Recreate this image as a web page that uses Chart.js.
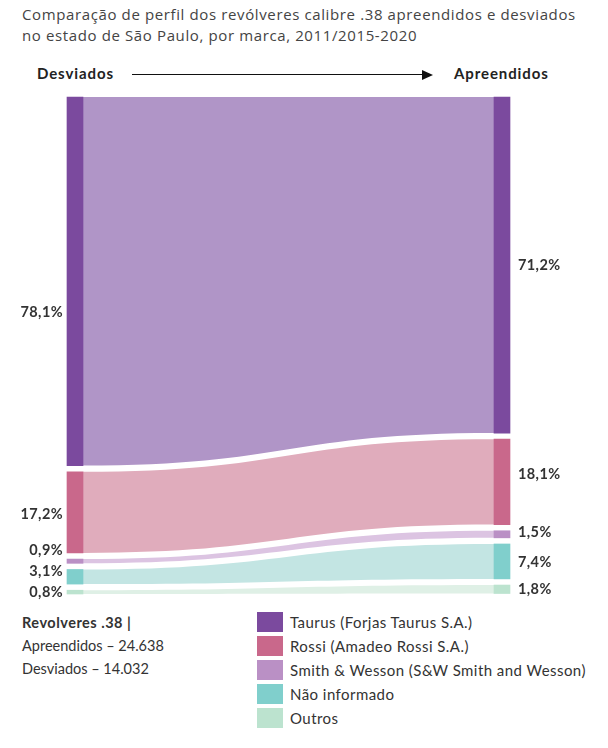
<!DOCTYPE html>
<html lang="pt-BR">
<head>
<meta charset="utf-8">
<title>Revólveres calibre .38 - Sankey</title>
<script src="https://cdn.jsdelivr.net/npm/chart.js@4.4.1/dist/chart.umd.min.js"></script>
<style>
  html, body { margin: 0; padding: 0; background: #fff; }
  body { width: 608px; height: 748px; position: relative; overflow: hidden;
         font-family: Lato, "Open Sans", sans-serif; color: #333; }
  .title { position: absolute; left: 22px; top: 4px; font-family: "Open Sans", sans-serif; font-size: 15px;
           letter-spacing: 0.62px; line-height: 21px; color: #444; white-space: nowrap; }
  .head { position: absolute; top: 64px; font-size: 15px; font-weight: 700; color: #222; letter-spacing: 0.9px; }
  .arrow { position: absolute; left: 132px; top: 74px; width: 292px; height: 0; border-top: 1.4px solid #111; }
  .arrow-tip { position: absolute; left: 422px; top: 70px; width: 0; height: 0;
               border-top: 5px solid transparent; border-bottom: 5px solid transparent; border-left: 11px solid #111; }
  #wrap { position: absolute; left: 0; top: 90px; width: 608px; height: 510px; }
  .notes { position: absolute; left: 22px; top: 611px; font-size: 14.5px; line-height: 23px; color: #333; }
  .notes b { font-weight: 700; letter-spacing: 0.5px; }
  .legend { position: absolute; left: 257px; top: 612px; font-size: 15px; letter-spacing: 0.45px; color: #333; white-space: nowrap; }
  .legend div { height: 24px; display: flex; align-items: flex-start; }
  .legend span.sw { display: inline-block; width: 26px; height: 20px; margin-right: 7px; }
  .legend span.tx { line-height: 20px; }
</style>
</head>
<body>
<div class="title">Comparação de perfil dos revólveres calibre .38 apreendidos e desviados<br>no estado de São Paulo, por marca, 2011/2015-2020</div>
<div class="head" style="left:37px">Desviados</div>
<div class="arrow"></div><div class="arrow-tip"></div>
<div class="head" style="left:454px">Apreendidos</div>
<div id="wrap"><canvas id="sankey"></canvas></div>
<div class="notes" id="notes"></div>
<div class="legend" id="legend"></div>

<script>
// dados
const columns = ['Desviados', 'Apreendidos'];
const totals = [14032, 24638];
const brands = ['Taurus (Forjas Taurus S.A.)', 'Rossi (Amadeo Rossi S.A.)', 'Smith & Wesson (S&W Smith and Wesson)', 'Não informado', 'Outros'];
const desviados = [78.1, 17.2, 0.9, 3.1, 0.8];
const apreendidos = [71.2, 18.1, 1.5, 7.4, 1.8];

const barColors = ['#7b4a9e', '#c9688b', '#ba90c5', '#80cfcc', '#bce3cf'];
const flowColors = ['#b095c7', '#e0acbc', '#dcc4e2', '#c3e5e3', '#dff0e6'];
const GAP = 1.3;

// stack each column top-down with a small gap between segments
function stackRanges(values) {
    let pos = 0;
    return values.map(v => {
        const r = [pos, pos + v];
        pos += v + GAP;
        return r;
    });
}
const leftRanges = stackRanges(desviados);
const rightRanges = stackRanges(apreendidos);
const yMax = Math.max(leftRanges[4][1], rightRanges[4][1]);

const fmt = v => v.toFixed(1).replace('.', ',') + '%';

const flowPlugin = {
    id: 'flows',
    beforeDatasetsDraw(chart) {
        const ctx = chart.ctx;
        ctx.save();
        chart.data.datasets.forEach((ds, i) => {
            const meta = chart.getDatasetMeta(i);
            const a = meta.data[0], b = meta.data[1];
            const x0 = a.x + a.width / 2, x1 = b.x - b.width / 2;
            const xm = (x0 + x1) / 2;
            const t0 = Math.min(a.y, a.base), b0 = Math.max(a.y, a.base);
            const t1 = Math.min(b.y, b.base), b1 = Math.max(b.y, b.base);
            ctx.beginPath();
            ctx.moveTo(x0, t0);
            ctx.bezierCurveTo(xm, t0, xm, t1, x1, t1);
            ctx.lineTo(x1, b1);
            ctx.bezierCurveTo(xm, b1, xm, b0, x0, b0);
            ctx.closePath();
            ctx.fillStyle = flowColors[i];
            ctx.fill();
        });
        ctx.restore();
    },
    afterDatasetsDraw(chart, args, opts) {
        const ctx = chart.ctx;
        ctx.save();
        ctx.font = '700 14.5px Lato, "Open Sans", sans-serif';
        if ('letterSpacing' in ctx) ctx.letterSpacing = '0.4px';
        ctx.fillStyle = '#333';
        ctx.textBaseline = 'middle';
        [0, 1].forEach(col => {
            const vals = col === 0 ? desviados : apreendidos;
            const nudge = col === 0 ? opts.nudgeLeft : opts.nudgeRight;
            const ys = chart.data.datasets.map((ds, i) => {
                const el = chart.getDatasetMeta(i).data[col];
                return (el.y + el.base) / 2 + nudge[i];
            });
            // push labels up from the bottom so they never overlap
            for (let i = ys.length - 2; i >= 0; i--) {
                if (ys[i] > ys[i + 1] - opts.minSpacing) ys[i] = ys[i + 1] - opts.minSpacing;
            }
            vals.forEach((v, i) => {
                const el = chart.getDatasetMeta(i).data[col];
                if (col === 0) {
                    ctx.textAlign = 'right';
                    ctx.fillText(fmt(v), el.x - el.width / 2 - 4, ys[i]);
                } else {
                    ctx.textAlign = 'left';
                    ctx.fillText(fmt(v), el.x + el.width / 2 + 8, ys[i]);
                }
            });
        });
        ctx.restore();
    }
};

const datasets = brands.map((b, i) => ({
    label: b,
    data: [leftRanges[i], rightRanges[i]],
    backgroundColor: barColors[i],
    borderWidth: 0,
    borderSkipped: false,
    barThickness: 16,
    grouped: false,
    clip: false
}));

new Chart(document.getElementById('sankey'), {
    type: 'bar',
    data: { labels: columns, datasets: datasets },
    plugins: [flowPlugin],
    options: {
        responsive: true,
        maintainAspectRatio: false,
        animation: false,
        layout: { padding: { left: 75, right: 106, top: 7, bottom: 6 } },
        scales: {
            x: { display: false, offset: false },
            y: { display: false, min: 0, max: yMax, reverse: true }
        },
        plugins: {
            legend: { display: false },
            tooltip: { enabled: false },
            flows: { minSpacing: 21, nudgeLeft: [31, 2, 0, 0, 0], nudgeRight: [0, -8, -2, 1, 0] }
        }
    }
});

// notas e legenda
document.getElementById('notes').innerHTML =
    '<b>Revolveres .38 |</b><br>' +
    columns[1] + ' – ' + totals[1].toLocaleString('pt-BR') + '<br>' +
    columns[0] + ' – ' + totals[0].toLocaleString('pt-BR');
document.getElementById('legend').innerHTML = brands.map((b, i) =>
    '<div><span class="sw" style="background:' + barColors[i] + '"></span><span class="tx">' + b + '</span></div>'
).join('');
</script>
</body>
</html>
